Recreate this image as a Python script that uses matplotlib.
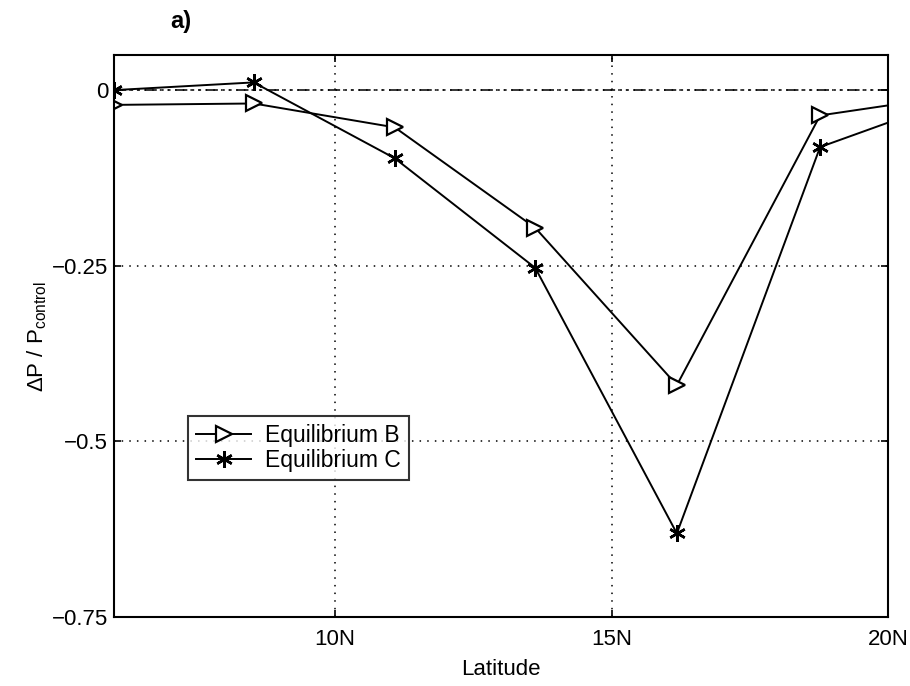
import matplotlib
matplotlib.use("Agg")
import matplotlib.pyplot as plt
from matplotlib.ticker import FixedLocator

plt.rcParams['font.family'] = ['Liberation Sans', 'DejaVu Sans']
plt.rcParams['mathtext.fontset'] = 'custom'
plt.rcParams['mathtext.rm'] = 'Liberation Sans'
plt.rcParams['mathtext.it'] = 'Liberation Sans:italic'

# Data (latitude in degrees N)
lat = [6.0, 8.53, 11.08, 13.62, 16.18, 18.77, 21.35]
eq_b = [-0.021, -0.019, -0.053, -0.196, -0.420, -0.036, -0.006]
eq_c = [0.000, 0.011, -0.097, -0.253, -0.631, -0.081, -0.008]

xticks = [10, 15, 20]
xticklabels = ['10N', '15N', '20N']
yticks = [0, -0.25, -0.5, -0.75]
yticklabels = ['0', '\u22120.25', '\u22120.5', '\u22120.75']

fig = plt.figure(figsize=(9.1, 6.86), dpi=100)
ax = fig.add_axes([0.125, 0.1006, 0.851, 0.8192])

ax.set_xlim(6, 20)
ax.set_ylim(-0.75, 0.05)

ax.grid(True, linestyle=(0, (1, 4)), color='black', linewidth=1.1)
ax.axhline(0, color='black', linewidth=1.1, dashes=(8, 3, 1.5, 3, 1.5, 3))

ax.plot(lat, eq_b, color='black', linewidth=1.4, marker='>', markersize=12,
        markerfacecolor='white', markeredgecolor='black', markeredgewidth=1.6,
        label='Equilibrium B')
ax.plot(lat, eq_c, color='black', linewidth=1.4, marker=(6, 2, 0), markersize=12,
        markeredgewidth=1.8, label='Equilibrium C')

ax.xaxis.set_major_locator(FixedLocator(xticks))
ax.set_xticklabels(xticklabels)
ax.yaxis.set_major_locator(FixedLocator(yticks))
ax.set_yticklabels(yticklabels)
ax.tick_params(direction='in', length=5, width=1.2, labelsize=16, top=True, right=True)
ax.tick_params(axis='x', pad=9)
ax.tick_params(axis='y', pad=4)
for s in ax.spines.values():
    s.set_linewidth(1.5)

ax.set_xlabel('Latitude', fontsize=16, labelpad=6)
ax.set_ylabel('\u0394P / P$_{\\mathrm{control}}$', fontsize=16, labelpad=2)

fig.text(0.199, 0.968, 'a)', fontsize=17, fontweight='bold', ha='center', va='center')

leg = ax.legend(loc='upper left', bbox_to_anchor=(0.096, 0.358), fontsize=16.5,
                frameon=True, fancybox=False, edgecolor='black', borderpad=0.35,
                handlelength=2.4, handletextpad=0.6, labelspacing=0.1,
                borderaxespad=0)
leg.get_frame().set_linewidth(1.5)

fig.savefig('out.png', dpi=100)
